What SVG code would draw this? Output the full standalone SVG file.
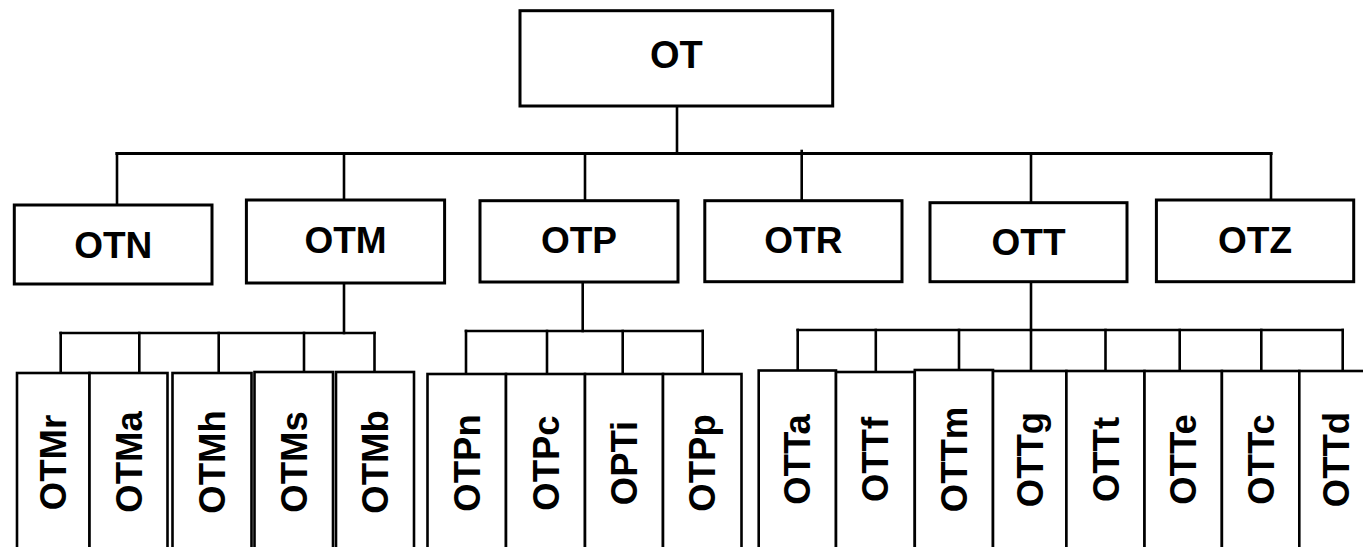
<svg xmlns="http://www.w3.org/2000/svg" width="1363" height="547" viewBox="0 0 1363 547">
<style>
.box{fill:#fff;stroke:#000;stroke-width:3}
.leaf{fill:#fff;stroke:#000;stroke-width:2.6}
.lbl{font-family:"Liberation Sans",Arial,sans-serif;font-weight:bold;fill:#000;text-anchor:middle}
.h{font-size:37px}
.top{font-size:38px}
.v{font-size:36.5px}
.conn line{stroke:#000;stroke-width:2.6;stroke-linecap:square}
</style>
<rect width="1363" height="547" fill="#fff"/>
<g class="conn" id="connectors">
<line x1="677" y1="106" x2="677" y2="153.5"/>
<line x1="117" y1="153.5" x2="1271" y2="153.5" style="stroke-width:3.2"/>
<line x1="117" y1="153.5" x2="117" y2="205"/>
<line x1="344" y1="153.5" x2="344" y2="200"/>
<line x1="585" y1="153.5" x2="585" y2="200.7"/>
<line x1="801.7" y1="151" x2="801.7" y2="200.7"/>
<line x1="1031" y1="153.5" x2="1031" y2="202.7"/>
<line x1="1271" y1="153.5" x2="1271" y2="200"/>
<line x1="344" y1="283" x2="344" y2="333"/>
<line x1="60.7" y1="333" x2="374.5" y2="333"/>
<line x1="60.7" y1="333" x2="60.7" y2="372"/>
<line x1="139.3" y1="333" x2="139.3" y2="372"/>
<line x1="218.7" y1="333" x2="218.7" y2="372"/>
<line x1="304" y1="333" x2="304" y2="371"/>
<line x1="374.5" y1="333" x2="374.5" y2="371"/>
<line x1="582.7" y1="282" x2="582.7" y2="331"/>
<line x1="466" y1="331" x2="702.7" y2="331"/>
<line x1="466" y1="331" x2="466" y2="373"/>
<line x1="547" y1="331" x2="547" y2="373"/>
<line x1="622.7" y1="331" x2="622.7" y2="373"/>
<line x1="702.7" y1="331" x2="702.7" y2="373"/>
<line x1="1031" y1="281.7" x2="1031" y2="330"/>
<line x1="797.7" y1="330" x2="1342.7" y2="330"/>
<line x1="797.7" y1="330" x2="797.7" y2="370"/>
<line x1="875.8" y1="330" x2="875.8" y2="371"/>
<line x1="959" y1="330" x2="959" y2="370"/>
<line x1="1031" y1="330" x2="1031" y2="370"/>
<line x1="1105.5" y1="330" x2="1105.5" y2="371"/>
<line x1="1179.7" y1="330" x2="1179.7" y2="371"/>
<line x1="1261.3" y1="330" x2="1261.3" y2="371"/>
<line x1="1342.7" y1="330" x2="1342.7" y2="371"/>
</g>
<g id="OT"><rect class="box" x="520" y="10.7" width="312.7" height="95.3"/><text class="lbl top" x="676.3" y="67.7">OT</text></g>
<g id="OTN"><rect class="box" x="14.3" y="205" width="197.7" height="79"/><text class="lbl h" x="113.2" y="257.5">OTN</text></g>
<g id="OTM"><rect class="box" x="246.4" y="200" width="198.2" height="83"/><text class="lbl h" x="345.5" y="252.5">OTM</text></g>
<g id="OTP"><rect class="box" x="480" y="200.7" width="198" height="81.3"/><text class="lbl h" x="579" y="252.5">OTP</text></g>
<g id="OTR"><rect class="box" x="704.8" y="200.7" width="197.2" height="81"/><text class="lbl h" x="803.4" y="252.5">OTR</text></g>
<g id="OTT"><rect class="box" x="930" y="202.7" width="197" height="79"/><text class="lbl h" x="1028.5" y="254.5">OTT</text></g>
<g id="OTZ"><rect class="box" x="1156.4" y="200" width="197.3" height="81.7"/><text class="lbl h" x="1255" y="252.5">OTZ</text></g>
<g id="OTMr"><rect class="leaf" x="17" y="373" width="72.5" height="200"/><text class="lbl v" transform="translate(53.2,462.5) rotate(-90)" y="13">OTMr</text></g>
<g id="OTMa"><rect class="leaf" x="89.5" y="373" width="78" height="200"/><text class="lbl v" transform="translate(128.5,462) rotate(-90)" y="13">OTMa</text></g>
<g id="OTMh"><rect class="leaf" x="172.5" y="373" width="79" height="200"/><text class="lbl v" transform="translate(212,462) rotate(-90)" y="13">OTMh</text></g>
<g id="OTMs"><rect class="leaf" x="254.5" y="372" width="78.5" height="200"/><text class="lbl v" transform="translate(293.7,462) rotate(-90)" y="13">OTMs</text></g>
<g id="OTMb"><rect class="leaf" x="336" y="372" width="78" height="200"/><text class="lbl v" transform="translate(375,462) rotate(-90)" y="13">OTMb</text></g>
<g id="OTPn"><rect class="leaf" x="427.5" y="374" width="78.5" height="200"/><text class="lbl v" transform="translate(466.7,463) rotate(-90)" y="13">OTPn</text></g>
<g id="OTPc"><rect class="leaf" x="506" y="374" width="79" height="200"/><text class="lbl v" transform="translate(545.5,463) rotate(-90)" y="13">OTPc</text></g>
<g id="OPTi"><rect class="leaf" x="585" y="374" width="78" height="200"/><text class="lbl v" transform="translate(624,463) rotate(-90)" y="13">OPTi</text></g>
<g id="OTPp"><rect class="leaf" x="663" y="374" width="78.5" height="200"/><text class="lbl v" transform="translate(702,463) rotate(-90)" y="13">OTPp</text></g>
<g id="OTTa"><rect class="leaf" x="758.7" y="370.5" width="77.3" height="200"/><text class="lbl v" transform="translate(797.4,459.5) rotate(-90)" y="13">OTTa</text></g>
<g id="OTTf"><rect class="leaf" x="836" y="372" width="78.8" height="200"/><text class="lbl v" transform="translate(875.4,459.5) rotate(-90)" y="13">OTTf</text></g>
<g id="OTTm"><rect class="leaf" x="914.8" y="370" width="78.2" height="200"/><text class="lbl v" transform="translate(954,459.5) rotate(-90)" y="13">OTTm</text></g>
<g id="OTTg"><rect class="leaf" x="993" y="371" width="73.4" height="200"/><text class="lbl v" transform="translate(1029.7,459.5) rotate(-90)" y="13">OTTg</text></g>
<g id="OTTt"><rect class="leaf" x="1066.4" y="371" width="78.1" height="200"/><text class="lbl v" transform="translate(1105.5,459.5) rotate(-90)" y="13">OTTt</text></g>
<g id="OTTe"><rect class="leaf" x="1144.5" y="371" width="77.4" height="200"/><text class="lbl v" transform="translate(1183.2,459.5) rotate(-90)" y="13">OTTe</text></g>
<g id="OTTc"><rect class="leaf" x="1221.9" y="371" width="77.4" height="200"/><text class="lbl v" transform="translate(1260.6,459.5) rotate(-90)" y="13">OTTc</text></g>
<g id="OTTd"><rect class="leaf" x="1299.3" y="371" width="80" height="200"/><text class="lbl v" transform="translate(1336,459.5) rotate(-90)" y="13">OTTd</text></g>
</svg>
